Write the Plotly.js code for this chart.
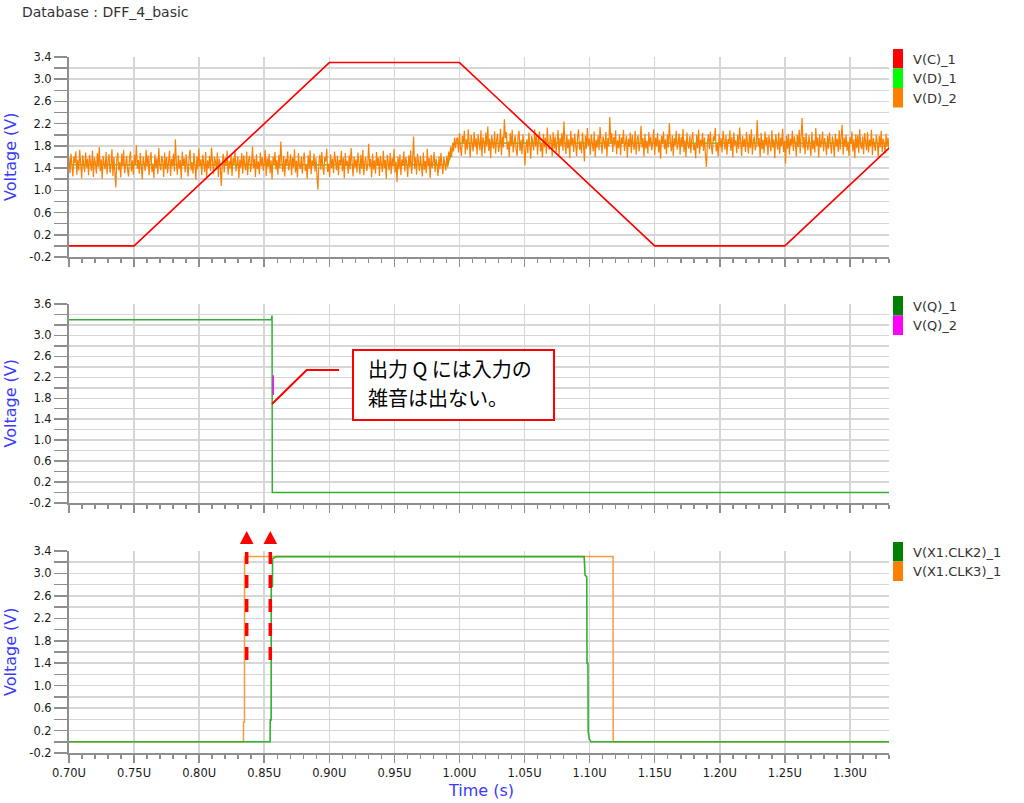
<!DOCTYPE html>
<html>
<head>
<meta charset="utf-8">
<script src="https://cdn.plot.ly/plotly-3.0.1.min.js"></script>
<style>html,body{margin:0;padding:0;background:#fff;}#chart{width:1024px;height:803px;}</style>
</head>
<body>
<div id="chart"></div>
<script>
// ---------------- DATA ----------------
const chartTitle = 'Database : DFF_4_basic';
const timeRange = [0.70, 1.33];

// Panel 1
const tC = [0.70, 0.75, 0.90, 1.00, 1.15, 1.25, 1.33];
const vC = [0.00, 0.00, 3.30, 3.30, 0.00, 0.00, 1.76];

const tD1 = [0.70, 0.991, 0.996, 1.33];
const vD1 = [1.46, 1.46, 1.85, 1.85];

const dStart = 0.70, dStep = 0.00075;   // sampling grid of V(D)_2
const vD2 = [
1.58,1.31,1.66,1.39,1.25,1.61,1.49,1.70,1.28,1.55,1.36,1.73,1.44,1.22,1.63,1.52,1.33,1.68,1.41,1.57,
1.27,1.64,1.46,1.35,1.71,1.24,1.59,1.50,1.30,1.67,1.42,1.78,1.34,1.56,1.21,1.62,1.47,1.38,1.69,1.29,
1.53,1.65,1.32,1.45,1.74,1.26,1.60,1.40,1.05,1.57,1.68,1.36,1.51,1.23,1.66,1.43,1.72,1.31,1.48,1.62,
1.37,1.25,1.59,1.70,1.34,1.54,1.28,1.64,1.46,1.81,1.39,1.55,1.30,1.67,1.44,1.20,1.61,1.50,1.35,1.73,
1.42,1.63,1.27,1.56,1.69,1.33,1.48,1.22,1.65,1.40,1.58,1.29,1.76,1.45,1.36,1.62,1.52,1.24,1.68,1.38,
1.60,1.31,1.47,1.71,1.26,1.57,1.43,1.66,1.34,1.92,1.49,1.28,1.63,1.39,1.55,1.21,1.70,1.44,1.58,1.32,
1.65,1.41,1.25,1.59,1.73,1.36,1.51,1.30,1.67,1.46,1.19,1.61,1.38,1.75,1.43,1.56,1.27,1.64,1.50,1.33,
1.69,1.23,1.54,1.40,1.62,1.35,1.77,1.45,1.29,1.60,1.52,1.37,1.68,1.24,1.57,1.42,1.08,1.48,1.66,1.32,
1.59,1.44,1.71,1.28,1.53,1.39,1.64,1.26,1.58,1.47,1.72,1.34,1.49,1.61,1.22,1.56,1.41,1.67,1.30,1.63,
1.45,1.36,1.70,1.27,1.55,1.62,1.33,1.48,1.79,1.40,1.57,1.24,1.65,1.38,1.52,1.29,1.68,1.43,1.60,1.35,
1.50,1.73,1.26,1.58,1.42,1.66,1.31,1.54,1.20,1.61,1.46,1.69,1.37,1.55,1.28,1.64,1.40,1.88,1.51,1.33,
1.62,1.25,1.57,1.44,1.70,1.36,1.49,1.65,1.27,1.59,1.41,1.74,1.32,1.53,1.23,1.67,1.45,1.38,1.61,1.30,
1.56,1.68,1.35,1.47,1.21,1.63,1.39,1.72,1.29,1.54,1.43,1.66,1.34,1.58,1.26,1.01,1.50,1.64,1.37,1.69,
1.42,1.28,1.60,1.52,1.75,1.33,1.48,1.24,1.65,1.40,1.57,1.31,1.70,1.45,1.36,1.62,1.27,1.55,1.46,1.71,
1.34,1.59,1.22,1.67,1.44,1.53,1.30,1.63,1.38,1.76,1.49,1.25,1.61,1.41,1.56,1.32,1.68,1.47,1.29,1.64,
1.39,1.73,1.27,1.51,1.60,1.35,1.45,1.84,1.42,1.57,1.23,1.66,1.37,1.54,1.30,1.69,1.44,1.59,1.26,1.62,
1.48,1.33,1.71,1.40,1.55,1.21,1.64,1.46,1.36,1.67,1.29,1.58,1.43,1.74,1.32,1.52,1.15,1.61,1.38,1.65,
1.27,1.56,1.44,1.70,1.34,1.60,1.49,1.24,1.63,1.41,1.72,1.30,1.54,1.97,1.39,1.59,1.28,1.66,1.45,1.35,
1.62,1.47,1.25,1.68,1.37,1.53,1.31,1.75,1.43,1.58,1.22,1.64,1.40,1.51,1.69,1.33,1.57,1.46,1.26,1.61,
1.38,1.67,1.44,1.29,1.60,1.49,1.36,
1.62,1.41,1.70,1.55,1.79,1.60,1.86,1.70,1.95,1.76,1.92,
1.95,1.68,2.03,1.76,1.62,1.98,1.86,2.07,1.65,1.92,1.73,2.10,1.81,1.59,2.00,1.89,1.70,2.05,1.78,1.94,
1.64,2.01,1.83,1.72,2.08,1.61,1.96,1.87,1.67,2.04,1.79,2.15,1.71,1.93,1.58,1.99,1.84,1.75,2.06,1.66,
1.90,2.02,1.69,1.82,2.11,1.63,1.97,1.77,2.28,1.94,2.05,1.73,1.88,1.60,2.03,1.80,2.09,1.68,1.85,1.99,
1.74,1.62,1.96,2.07,1.71,1.91,1.65,2.01,1.83,1.45,1.76,1.92,1.67,2.04,1.81,1.57,1.98,1.87,1.72,2.10,
1.79,2.00,1.64,1.93,2.06,1.70,1.85,1.59,2.02,1.77,1.95,1.66,2.13,1.82,1.73,1.99,1.89,1.61,2.05,1.75,
1.97,1.68,1.84,2.08,1.63,1.94,1.80,2.03,1.71,2.24,1.86,1.65,2.00,1.76,1.92,1.58,2.07,1.81,1.95,1.69,
2.02,1.78,1.62,1.96,2.10,1.73,1.88,1.67,2.04,1.83,1.52,1.98,1.75,2.12,1.80,1.93,1.64,2.01,1.87,1.70,
2.06,1.60,1.91,1.77,1.99,1.72,2.14,1.82,1.66,1.97,1.89,1.74,2.05,1.61,1.94,1.79,2.32,1.85,2.03,1.69,
1.96,1.81,2.08,1.65,1.90,1.76,2.01,1.63,1.95,1.84,2.09,1.71,1.86,1.98,1.59,1.93,1.78,2.04,1.67,2.00,
1.82,1.73,2.07,1.64,1.92,1.99,1.70,1.85,2.16,1.77,1.94,1.61,2.02,1.75,1.89,1.66,2.05,1.80,1.97,1.72,
1.87,2.10,1.63,1.95,1.79,2.03,1.68,1.91,1.57,1.98,1.83,2.06,1.74,1.92,1.65,2.01,1.77,2.21,1.88,1.70,
1.99,1.62,1.94,1.81,2.07,1.73,1.86,2.02,1.64,1.96,1.78,2.11,1.69,1.90,1.60,2.04,1.82,1.75,1.98,1.67,
1.93,2.05,1.72,1.84,1.58,2.00,1.76,2.09,1.66,1.91,1.80,2.03,1.71,1.95,1.63,1.42,1.87,2.01,1.74,2.06,
1.79,1.65,1.97,1.89,2.12,1.70,1.85,1.61,2.02,1.77,1.94,1.68,2.07,1.82,1.73,1.99,1.64,1.92,1.83,2.08,
1.71,1.96,1.59,2.04,1.81,1.90,1.67,2.00,1.75,2.13,1.86,1.62,1.98,1.78,1.93,1.69,2.05,1.84,1.66,2.01,
1.76,2.10,1.64,1.88,1.97,1.72,1.82,2.26,1.79,1.94,1.60,2.03,1.74,1.91,1.67,2.06,1.81,1.96,1.63,1.99,
1.85,1.70,2.08,1.77,1.92,1.58,2.01,1.83,1.73,2.04,1.66,1.95,1.80,2.11,1.69,1.89,1.48,1.98,1.75,2.02,
1.64,1.93,1.81,2.07,1.71,1.97,1.86,1.61,2.00,1.78,2.09,1.67,1.91,2.30,1.76,1.96,1.65,2.03,1.82,1.72,
1.99,1.84,1.62,2.05,1.74,1.90,1.68,2.12,1.80,1.95,1.59,2.01,1.77,1.88,2.06,1.70,1.94,1.83,1.63,1.98,
1.75,2.04,1.81,1.66,1.97,1.86,1.60,2.02,1.79,1.93,1.69,2.08,1.73,1.90,2.18,1.64,1.95,1.78,2.00,1.71,
1.88,1.62,1.96,1.83,2.06,1.70,1.92,1.58,2.01,1.76,1.99,1.67,2.10,1.81,1.74,1.97,1.65,2.03,1.85,1.72,
2.05,1.68,1.91,1.79,2.09,1.63,1.94,1.82,1.71,2.00,1.86,1.60,1.98,1.77,2.07,1.69,1.93,1.84,1.66,2.02,
1.78,1.95,1.73
];

// Panel 2
const tQ1 = [0.70, 0.8555, 0.8560, 0.8562, 1.33];
const vQ1 = [3.30, 3.30, 3.38, 0.00, 0.00];
const tQ2 = [0.8569, 0.8569];
const vQ2 = [2.24, 1.86];

// Panel 3
const tCLK2 = [0.70, 0.8545, 0.8546, 0.8553, 0.8554, 0.8563, 0.8564, 0.8590, 1.0958, 1.0965, 1.0978, 1.0980, 1.0987, 1.0989, 1.0997, 1.1010, 1.33];
const vCLK2 = [0.00, 0.00, 0.39, 0.39, 2.77, 2.77, 3.26, 3.30, 3.30, 2.97, 2.94, 1.40, 1.40, 0.18, 0.05, 0.00, 0.00];
const tCLK3 = [0.70, 0.8340, 0.8341, 0.8348, 0.8349, 1.1180, 1.1181, 1.33];
const vCLK3 = [0.00, 0.00, 0.35, 0.35, 3.30, 3.30, 0.00, 0.00];

// Axes ticks
const yRange1 = [-0.2, 3.4], yRange2 = [-0.2, 3.6], yRange3 = [-0.2, 3.4];
const yLabels1 = ['-0.2','0.2','0.6','1.0','1.4','1.8','2.2','2.6','3.0','3.4'];
const yLabels2 = ['-0.2','0.2','0.6','1.0','1.4','1.8','2.2','2.6','3.0','3.6'];
const yLabels3 = ['-0.2','0.2','0.6','1.0','1.4','1.8','2.2','2.6','3.0','3.4'];
const yGridStep = 0.2;
const xMajor = 0.05, xMinor = 0.01;

const legend1 = [['V(C)_1','#ff0000'],['V(D)_1','#00ff00'],['V(D)_2','#ff8000']];
const legend2 = [['V(Q)_1','#008000'],['V(Q)_2','#ff00ff']];
const legend3 = [['V(X1.CLK2)_1','#008000'],['V(X1.CLK3)_1','#ff8000']];
const noteLines = ['出力 Q には入力の','雑音は出ない。'];

// ---------------- LAYOUT ----------------
const W = 1024, H = 803;
const px = x => x / W, py = y => 1 - y / H;
const X0 = 69, X1 = 889;
const panels = [{top:57,bottom:257},{top:304,bottom:503},{top:551,bottom:753}];
const AX = '#8f8f8f', GRID = '#d6d6d6';

const tD2 = vD2.map((v, i) => +(dStart + i * dStep).toFixed(6));

function gridVals(range) {
  const out = [];
  const n = Math.round((range[1] - range[0]) / yGridStep);
  for (let i = 0; i <= n; i++) out.push(+(range[0] + i * yGridStep).toFixed(2));
  return out;
}
function yAxis(idx, range, labels) {
  const g = gridVals(range);
  const p = panels[idx];
  return {
    domain: [py(p.bottom), py(p.top)], range: range,
    anchor: idx === 0 ? 'x' : 'x' + (idx + 1),
    tickmode: 'array', tickvals: g,
    ticktext: g.map(v => labels.includes(v.toFixed(1)) ? v.toFixed(1) : ''),
    ticks: 'outside', ticklen: 13, tickwidth: 1.5, tickcolor: AX,
    showline: true, linecolor: AX, linewidth: 2,
    showgrid: true, gridcolor: GRID, gridwidth: 1.5, zeroline: false,
    tickfont: {family: 'DejaVu Sans', size: 11.5, color: '#1a1a1a'},
    fixedrange: true
  };
}
function xAxis(idx, showLabels) {
  const a = {
    domain: [px(X0), px(X1)], range: timeRange,
    anchor: idx === 0 ? 'y' : 'y' + (idx + 1),
    tick0: 0.70, dtick: xMajor, tickformat: '.2f', ticksuffix: 'U',
    ticks: 'outside', ticklen: 8, tickwidth: 1.5, tickcolor: AX,
    showticklabels: showLabels,
    showline: true, linecolor: AX, linewidth: 2,
    showgrid: true, gridcolor: GRID, gridwidth: 1.5, zeroline: false,
    minor: {tick0: 0.70, dtick: xMinor, ticks: 'outside', ticklen: 4, tickwidth: 1.5, tickcolor: AX, showgrid: false},
    tickfont: {family: 'DejaVu Sans', size: 11.5, color: '#1a1a1a'},
    fixedrange: true
  };
  if (idx > 0) a.matches = 'x';
  return a;
}

function line(x, y, color, width, n) {
  const s = n === 0 ? '' : String(n + 1);
  return {type: 'scatter', mode: 'lines', x: x, y: y, xaxis: 'x' + s, yaxis: 'y' + s,
          line: {color: color, width: width}, hoverinfo: 'skip'};
}

const data = [
  line(tD1, vD1, '#00e000', 1.2, 0),
  line(tD2, vD2, '#ff8000', 1.2, 0),
  line(tC, vC, '#ff0000', 1.6, 0),
  line(tQ1, vQ1, '#33b033', 1.5, 1),
  line(tQ2, vQ2, '#ff00ff', 1.5, 1),
  line(tCLK3, vCLK3, '#ff9a3c', 1.5, 2),
  line(tCLK2, vCLK2, '#33b033', 1.6, 2)
];

const shapes = [], annotations = [];
const textFont = {family: 'DejaVu Sans', size: 13, color: '#333'};

// legends
function addLegend(items, top) {
  const hRow = 19.5;
  items.forEach((it, i) => {
    const y0 = top + i * hRow, y1 = y0 + hRow;
    shapes.push({type: 'rect', xref: 'paper', yref: 'paper', x0: px(893), x1: px(903), y0: py(y1), y1: py(y0),
                 fillcolor: it[1], line: {width: 0}});
    annotations.push({xref: 'paper', yref: 'paper', x: px(911), y: py((y0 + y1) / 2 + 0.5), xanchor: 'left', yanchor: 'middle',
                      text: it[0], showarrow: false, font: textFont});
  });
}
addLegend(legend1, 49);
addLegend(legend2, 296);
addLegend(legend3, 542);

// title & axis titles
annotations.push({xref: 'paper', yref: 'paper', x: px(20), y: py(12), xanchor: 'left', yanchor: 'middle',
                  text: chartTitle, showarrow: false, font: {family: 'DejaVu Sans', size: 14, color: '#333'}});
panels.forEach(p => {
  annotations.push({xref: 'paper', yref: 'paper', x: px(10), y: py((p.top + p.bottom) / 2), xanchor: 'center', yanchor: 'middle',
                    text: 'Voltage (V)', textangle: -90, showarrow: false, font: {family: 'DejaVu Sans', size: 16, color: '#3a3aff'}});
});
annotations.push({xref: 'paper', yref: 'paper', x: px(481), y: py(790), xanchor: 'center', yanchor: 'middle',
                  text: 'Time (s)', showarrow: false, font: {family: 'DejaVu Sans', size: 16, color: '#3a3aff'}});

// callout in panel 2
shapes.push({type: 'rect', xref: 'paper', yref: 'paper', x0: px(353), x1: px(554), y0: py(420), y1: py(350),
             fillcolor: '#ffffff', line: {color: '#ff0000', width: 2}});
shapes.push({type: 'path', xref: 'paper', yref: 'paper',
             path: `M ${px(272)},${py(404)} L ${px(306.7)},${py(370)} L ${px(339)},${py(370)}`,
             line: {color: '#ff0000', width: 2}});
annotations.push({xref: 'paper', yref: 'paper', x: px(366), y: py(368), xanchor: 'left', yanchor: 'middle',
                  text: noteLines[0], showarrow: false, font: {family: 'Noto Sans CJK JP', size: 20, color: '#000'}});
annotations.push({xref: 'paper', yref: 'paper', x: px(366), y: py(397), xanchor: 'left', yanchor: 'middle',
                  text: noteLines[1], showarrow: false, font: {family: 'Noto Sans CJK JP', size: 20, color: '#000'}});

// dashed arrows in panel 3
[246.7, 270.3].forEach(xp => {
  shapes.push({type: 'line', xref: 'paper', yref: 'paper', x0: px(xp), x1: px(xp), y0: py(660), y1: py(552),
               line: {color: '#ff0000', width: 3.5, dash: '13px,11px'}});
  shapes.push({type: 'path', xref: 'paper', yref: 'paper',
               path: `M ${px(xp)},${py(531)} L ${px(xp + 6.8)},${py(544)} L ${px(xp - 6.8)},${py(544)} Z`,
               fillcolor: '#ff0000', line: {width: 0}});
});

const layout = {
  width: W, height: H, margin: {l: 0, r: 0, t: 0, b: 0},
  paper_bgcolor: '#ffffff', plot_bgcolor: '#ffffff', showlegend: false,
  font: {family: 'DejaVu Sans', size: 11, color: '#333'},
  xaxis: xAxis(0, false), xaxis2: xAxis(1, false), xaxis3: xAxis(2, true),
  yaxis: yAxis(0, yRange1, yLabels1), yaxis2: yAxis(1, yRange2, yLabels2), yaxis3: yAxis(2, yRange3, yLabels3),
  shapes: shapes, annotations: annotations
};

Plotly.newPlot('chart', data, layout, {displayModeBar: false, staticPlot: true});
</script>
</body>
</html>
